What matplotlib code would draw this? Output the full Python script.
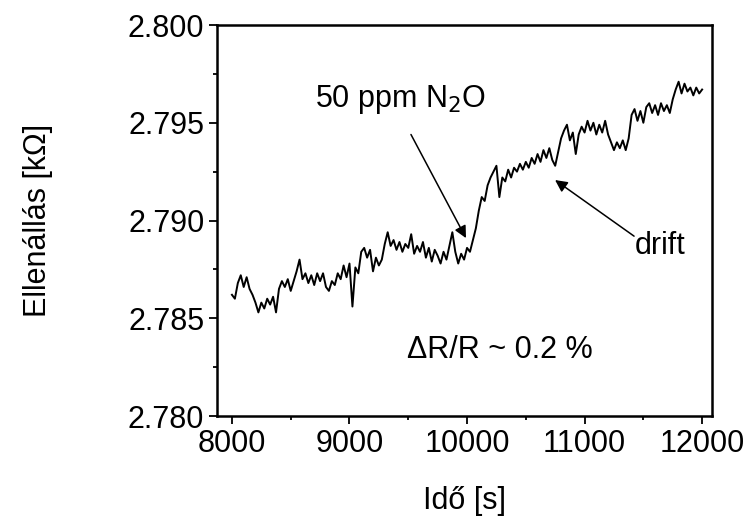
import matplotlib
matplotlib.use("Agg")
import matplotlib.pyplot as plt
from matplotlib.ticker import MultipleLocator

plt.rcParams['font.family'] = ['Liberation Sans', 'DejaVu Sans']

# mérési idő [s]
ido = [
    8000, 8025, 8050, 8075, 8100, 8125, 8150, 8175, 8200, 8225, 8250, 8275,
    8300, 8325, 8350, 8375, 8400, 8425, 8450, 8475, 8500, 8525, 8550, 8575,
    8600, 8625, 8650, 8675, 8700, 8725, 8750, 8775, 8800, 8825, 8850, 8875,
    8900, 8925, 8950, 8975, 9000, 9025, 9050, 9075, 9100, 9125, 9150, 9175,
    9200, 9225, 9250, 9275, 9300, 9325, 9350, 9375, 9400, 9425, 9450, 9475,
    9500, 9525, 9550, 9575, 9600, 9625, 9650, 9675, 9700, 9725, 9750, 9775,
    9800, 9825, 9850, 9875, 9900, 9925, 9950, 9975, 10000, 10025, 10050, 10075,
    10100, 10125, 10150, 10175, 10200, 10225, 10250, 10275, 10300, 10325, 10350, 10375,
    10400, 10425, 10450, 10475, 10500, 10525, 10550, 10575, 10600, 10625, 10650, 10675,
    10700, 10725, 10750, 10775, 10800, 10825, 10850, 10875, 10900, 10925, 10950, 10975,
    11000, 11025, 11050, 11075, 11100, 11125, 11150, 11175, 11200, 11225, 11250, 11275,
    11300, 11325, 11350, 11375, 11400, 11425, 11450, 11475, 11500, 11525, 11550, 11575,
    11600, 11625, 11650, 11675, 11700, 11725, 11750, 11775, 11800, 11825, 11850, 11875,
    11900, 11925, 11950, 11975, 12000,
]

# ellenállás [kOhm]
ellenallas = [
    2.7862, 2.7860, 2.7868, 2.7872, 2.7866, 2.7871, 2.7865, 2.7862, 2.7858, 2.7853, 2.7858, 2.7855,
    2.7860, 2.7857, 2.7861, 2.7853, 2.7865, 2.7869, 2.7866, 2.7870, 2.7864, 2.7869, 2.7874, 2.7880,
    2.7870, 2.7873, 2.7868, 2.7872, 2.7867, 2.7873, 2.7869, 2.7873, 2.7866, 2.7864, 2.7869, 2.7867,
    2.7873, 2.7870, 2.7877, 2.7871, 2.7878, 2.7856, 2.7876, 2.7873, 2.7884, 2.7886, 2.7881, 2.7885,
    2.7874, 2.7881, 2.7877, 2.7880, 2.7888, 2.7894, 2.7887, 2.7890, 2.7885, 2.7889, 2.7884, 2.7888,
    2.7886, 2.7893, 2.7883, 2.7887, 2.7884, 2.7889, 2.7881, 2.7886, 2.7879, 2.7885, 2.7882, 2.7878,
    2.7884, 2.7880, 2.7887, 2.7894, 2.7884, 2.7878, 2.7883, 2.7880, 2.7886, 2.7884, 2.7890, 2.7896,
    2.7905, 2.7912, 2.7910, 2.7918, 2.7922, 2.7925, 2.7928, 2.7912, 2.7922, 2.7920, 2.7926, 2.7922,
    2.7927, 2.7925, 2.7929, 2.7926, 2.7930, 2.7927, 2.7932, 2.7929, 2.7934, 2.7930, 2.7936, 2.7932,
    2.7937, 2.7931, 2.7928, 2.7935, 2.7942, 2.7946, 2.7949, 2.7941, 2.7945, 2.7934, 2.7944, 2.7948,
    2.7945, 2.7951, 2.7946, 2.7950, 2.7944, 2.7949, 2.7945, 2.7951, 2.7944, 2.7940, 2.7936, 2.7940,
    2.7937, 2.7941, 2.7936, 2.7942, 2.7954, 2.7957, 2.7951, 2.7956, 2.7950, 2.7958, 2.7960, 2.7955,
    2.7959, 2.7954, 2.7960, 2.7956, 2.7959, 2.7955, 2.7962, 2.7967, 2.7971, 2.7965, 2.7970, 2.7966,
    2.7968, 2.7964, 2.7968, 2.7965, 2.7967,
]

x_ticks = [8000, 9000, 10000, 11000, 12000]
y_ticks = [2.780, 2.785, 2.790, 2.795, 2.800]
y_tick_labels = ['2.780', '2.785', '2.790', '2.795', '2.800']


def nyil(ax, honnan, hova):
    """Egyszerű nyíl két pont között (adat-koordinátákban)."""
    ax.annotate('', xy=hova, xytext=honnan,
                arrowprops=dict(arrowstyle='-|>', color='black', lw=1.1,
                                mutation_scale=18, shrinkA=0, shrinkB=0))


def main():
    fig = plt.figure(figsize=(7.51, 5.29), dpi=100)
    ax = fig.add_axes([0.2896, 0.2136, 0.658, 0.7391])

    ax.plot(ido, ellenallas, color='black', linewidth=1.4)

    ax.set_xlim(7877, 12081)
    ax.set_ylim(2.780, 2.800)
    ax.set_xticks(x_ticks)
    ax.set_yticks(y_ticks)
    ax.set_yticklabels(y_tick_labels)
    ax.xaxis.set_minor_locator(MultipleLocator(500))
    ax.yaxis.set_minor_locator(MultipleLocator(0.0025))

    ax.tick_params(which='major', direction='out', length=5.5, width=1.3,
                   labelsize=22, pad=4, top=False, right=False)
    ax.tick_params(which='minor', direction='out', length=3, width=1.3,
                   top=False, right=False)
    for spine in ax.spines.values():
        spine.set_linewidth(1.8)

    ax.set_xlabel('Idő [s]', fontsize=22, labelpad=19)
    ax.set_ylabel('Ellenállás [kΩ]', fontsize=22, labelpad=54)

    # feliratok és nyilak
    ax.text(8706, 2.7962, '50 ppm N$_2$O', fontsize=22, ha='left', va='center')
    nyil(ax, (9523, 2.7944), (9991, 2.7891))

    ax.text(11430, 2.7887, 'drift', fontsize=22, ha='left', va='center')
    nyil(ax, (11421, 2.7892), (10749, 2.79207))

    ax.text(10280, 2.7834, 'ΔR/R ~ 0.2 %', fontsize=22, ha='center', va='center')

    fig.savefig('out.png', dpi=100)


if __name__ == "__main__":
    main()
